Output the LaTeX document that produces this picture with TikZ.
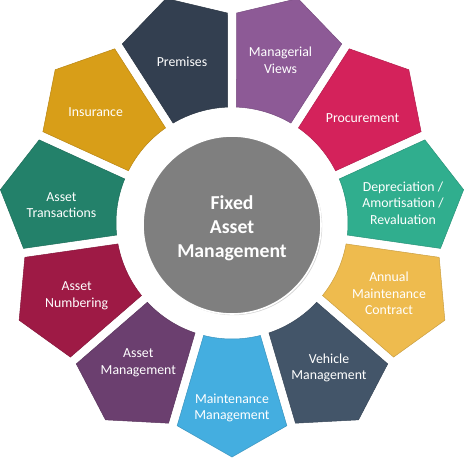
\documentclass[tikz,border=0pt]{standalone}
\usepackage{fontspec}
\setmainfont{Carlito}
\usetikzlibrary{shadows}
\definecolor{cMaint}{HTML}{44AEE0}
\definecolor{cVeh}{HTML}{435569}
\definecolor{cAnn}{HTML}{EEBB4E}
\definecolor{cDep}{HTML}{30AE8E}
\definecolor{cProc}{HTML}{D4225B}
\definecolor{cMgr}{HTML}{8D5A96}
\definecolor{cPrem}{HTML}{333F50}
\definecolor{cIns}{HTML}{D89E18}
\definecolor{cTrans}{HTML}{23816A}
\definecolor{cNum}{HTML}{9E1A45}
\definecolor{cAM}{HTML}{6B3F6F}
\definecolor{cHub}{HTML}{7F7F7F}
\tikzset{
  segment/.style={fill=#1, draw=#1!85!black, line width=0.5pt},
  seglabel/.style={text=white, align=center, font=\fontsize{13.8}{16.7}\selectfont, inner sep=0pt},
  hubstyle/.style={circle, fill=cHub, draw=white, line width=1.6pt, minimum size=178pt,
    drop shadow={opacity=0.35, shadow xshift=1.2pt, shadow yshift=-1.2pt}},
  hubtext/.style={text=white, align=center, inner sep=0pt, font=\bfseries\fontsize{19.7}{24}\selectfont}
}
\begin{document}
\begin{tikzpicture}
\useasboundingbox (0,0) rectangle (470pt,-465pt);
\begin{scope}[shift={(232pt,-223pt)}]
\foreach \a/\c in {270/cMaint, 302.727/cVeh, 335.455/cAnn, 368.182/cDep, 400.909/cProc,
                   433.636/cMgr, 466.364/cPrem, 499.091/cIns, 531.818/cTrans, 564.545/cNum, 597.273/cAM} {
  \pgfmathsetmacro\ra{\a-16.364+2.22}
  \pgfmathsetmacro\rb{\a-16.364+1.23}
  \pgfmathsetmacro\la{\a+16.364-2.22}
  \pgfmathsetmacro\lb{\a+16.364-1.23}
  \path[segment=\c] (\ra:116pt) -- (\rb:210pt) -- (\a:234pt) -- (\lb:210pt) -- (\la:116pt)
    arc[start angle=\la, end angle=\ra, radius=116pt] -- cycle;
}
\end{scope}
\node[hubstyle] (hub) at (232pt,-225pt) {};
\node[hubtext] (hublabel) at (232pt,-228pt) {Fixed\\Asset\\Management};
\node[seglabel] (maint) at (232pt,-408pt) {Maintenance\\Management};
\node[seglabel] (veh) at (329pt,-368pt) {Vehicle\\Management};
\node[seglabel] (ann) at (389pt,-293.5pt) {Annual\\Maintenance\\Contract};
\node[seglabel] (dep) at (403pt,-203pt) {Depreciation /\\Amortisation /\\Revaluation};
\node[seglabel] (proc) at (362.5pt,-118pt) {Procurement};
\node[seglabel] (mgr) at (280.5pt,-60pt) {Managerial\\Views};
\node[seglabel] (prem) at (182pt,-61.5pt) {Premises};
\node[seglabel] (ins) at (95.7pt,-112.5pt) {Insurance};
\node[seglabel] (trans) at (61.5pt,-205pt) {Asset\\Transactions};
\node[seglabel] (num) at (76.7pt,-295.5pt) {Asset\\Numbering};
\node[seglabel] (am) at (138.3pt,-363pt) {Asset\\Management};
\end{tikzpicture}
\end{document}
